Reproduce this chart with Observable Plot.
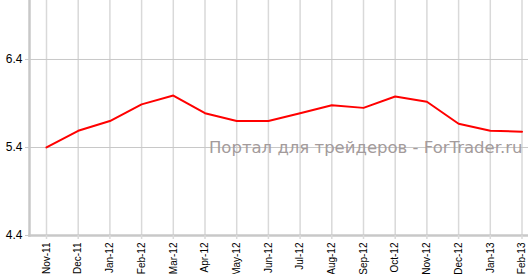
<!DOCTYPE html>
<html><head><meta charset="utf-8">
<script src="https://cdn.jsdelivr.net/npm/d3@7"></script>
<script src="https://cdn.jsdelivr.net/npm/@observablehq/plot@0.6"></script>
<style>body{margin:0;background:#fff}</style>
</head><body><div id="chart"></div>
<script>
const months = ["Nov-11","Dec-11","Jan-12","Feb-12","Mar-12","Apr-12","May-12","Jun-12","Jul-12","Aug-12","Sep-12","Oct-12","Nov-12","Dec-12","Jan-13","Feb-13"];
const values = [5.40,5.59,5.70,5.89,5.99,5.79,5.70,5.70,5.79,5.88,5.85,5.98,5.92,5.67,5.59,5.58];
const yTicks = [4.4,5.4,6.4];
const watermark = "Портал для трейдеров - ForTrader.ru";

const data = months.map((m,i)=>({month:m, value:values[i]}));

const chart = Plot.plot({
  width: 528, height: 274,
  marginLeft: 29, marginRight: 0, marginTop: 0, marginBottom: 39,
  style: {fontFamily: "Liberation Sans, Arial, sans-serif", background: "#fff"},
  x: {type: "point", domain: months, range: [46, 521.5], padding: 0, round: false},
  y: {domain: [4.4, 7.07]},
  marks: [
    Plot.ruleX(months, {stroke: "#d9d9d9", strokeWidth: 1.5}),
    Plot.ruleY(yTicks.slice(1), {stroke: "#c8c8c8", strokeWidth: 1}),
    Plot.text([watermark], {frameAnchor: "right", text: d=>d, dx: -6, dy: 30, fill: "#a39b9b", fontSize: 16.5, fontFamily: "DejaVu Sans, Verdana, sans-serif"}),
    Plot.line(data, {x: "month", y: "value", stroke: "#ff0000", strokeWidth: 2}),
    Plot.frame({anchor: "left", stroke: "#c8c8c8", strokeWidth: 2.5}),
    Plot.frame({anchor: "bottom", stroke: "#c8c8c8", strokeWidth: 2.5}),
    Plot.axisY({ticks: yTicks, tickFormat: d=>d.toFixed(1), tickSize: 4, tickPadding: 3, stroke: "#c8c8c8", fill: "#000", fontSize: 12, label: null}),
    Plot.axisX({tickRotate: -90, tickSize: 4, tickPadding: 3, stroke: "#d9d9d9", strokeWidth: 1.5, fill: "#000", fontSize: 10, label: null})
  ]
});
document.getElementById("chart").appendChild(chart);
</script></body></html>
